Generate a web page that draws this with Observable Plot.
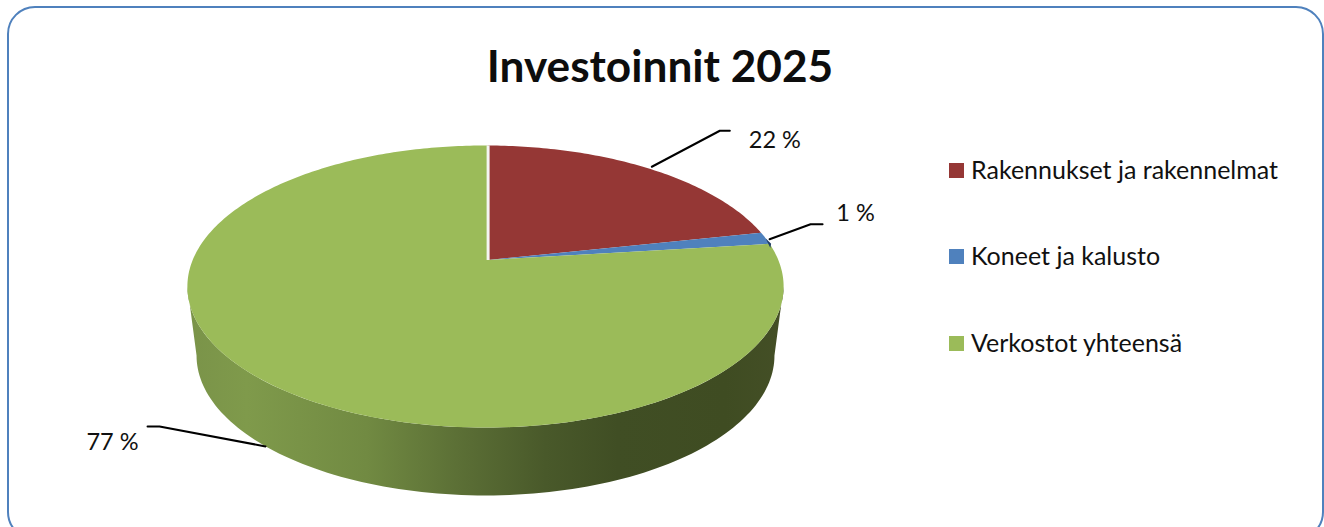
<!DOCTYPE html>
<html lang="fi">
<head>
<meta charset="utf-8">
<title>Investoinnit 2025</title>
<script src="https://cdn.jsdelivr.net/npm/d3@7"></script>
<script src="https://cdn.jsdelivr.net/npm/@observablehq/plot@0.6"></script>
<style>
  html, body { margin: 0; padding: 0; background: #fff; overflow: hidden; width: 1324px; height: 527px; }
  #page { position: relative; width: 1324px; height: 527px; overflow: hidden; font-family: Lato, "Open Sans", sans-serif; color: #111; }
  #border { position: absolute; left: 6.5px; top: 5.5px; width: 1313px; height: 530px; border: 2px solid #4f81bd; border-radius: 28px; box-sizing: content-box; }
  h1 { position: absolute; left: 0; top: 35px; width: 1320px; margin: 0; text-align: center; font-size: 44.2px; line-height: 60px; font-weight: 700; color: #0d0d0d; }
  #legend { position: absolute; left: 949px; top: 0; }
  .item { position: absolute; white-space: nowrap; font-size: 25px; line-height: 30px; height: 30px; display: flex; align-items: center; }
  .item .tx { position: relative; top: -1.5px; }
  .sw { width: 15px; height: 15px; margin-right: 7px; flex: none; }
  #chart { position: absolute; left: 0; top: 0; }
  svg { display: block; }
</style>
</head>
<body>
<div id="page">
  <div id="border"></div>
  <div id="chart"></div>
  <h1 id="title"></h1>
  <div id="legend"></div>
</div>
<script>
// ---- data ----
const chartTitle = "Investoinnit 2025";
const categories = ["Rakennukset ja rakennelmat", "Koneet ja kalusto", "Verkostot yhteensä"];
const shares = [21.6, 1.4, 77];
const colors = ["#953735", "#4f81bd", "#9bbb59"];

// ---- layout of the pseudo-3D pie ----
const W = 1324, H = 527;
const cx = 485, persp = 0.1844, radiusTop = 293, radiusBottom = 284;
const topFace = {a: -88.3, b: 260}, bottomFace = {a: -74.4, b: 329.3};
const labelLayout = [
  {shift: [5.5, -1], elbow: [68, -36], end: [78, -36], text: [123, -26], onBottom: false},
  {shift: [4, 1], elbow: [41, -15], end: [53, -15], text: [86, -26], onBottom: false},
  {shift: [-2, -1], elbow: [-106, -20], end: [-118, -20], text: [-153, -4], onBottom: true}
];

function project(share, face, r) {
  const t = share / 100 * 2 * Math.PI;
  const u = Math.sin(t), v = Math.cos(t), d = 1 + persp * v;
  return {x: cx + r * u / d, y: (face.a * v + face.b) / d};
}
const onTop = s => project(s, topFace, radiusTop);
const onBottom = s => project(s, bottomFace, radiusBottom);
const apex = {x: 487.6, y: topFace.b - 0.5};
const seamTop = {x: apex.x, y: onTop(0).y};

// slices
const cum = d3.cumsum(shares);
const slices = categories.flatMap((name, i) => {
  const from = i ? cum[i - 1] : 0, to = cum[i];
  const n = Math.max(2, Math.ceil((to - from) * 4));
  const rim = d3.range(n + 1).map(k => onTop(from + (to - from) * k / n));
  if (i === 0) rim.unshift(seamTop);
  if (i === categories.length - 1) rim.push(seamTop);
  return [apex, ...rim, apex].map(p => ({...p, name}));
});

// side wall: front part of the rim, top then bottom edge
const startShare = 100 * Math.acos(-persp) / (2 * Math.PI), endShare = 100 - startShare;
const wallSteps = d3.range(121).map(k => startShare + (endShare - startShare) * k / 120);
const wall = [...wallSteps.map(onTop), ...wallSteps.slice().reverse().map(onBottom)];

// dark sliver at the end of the small wedge
const sEnd = cum[1], sMid = cum[0] + shares[1] * 0.5;
const pa = onTop(sMid), pb = onTop(sEnd), pc = onBottom(sEnd);
const sliver = [pa, {x: pb.x + 1.5, y: pb.y}, {x: pb.x + (pc.x - pb.x) * 0.09 + 1.5, y: pb.y + (pc.y - pb.y) * 0.06}];

// leader lines and labels
const mids = shares.map((s, i) => (i ? cum[i - 1] : 0) + s / 2);
const anchors = mids.map((m, i) => {
  const p = (labelLayout[i].onBottom ? onBottom : onTop)(m);
  return {x: p.x + labelLayout[i].shift[0], y: p.y + labelLayout[i].shift[1]};
});
const leaders = anchors.flatMap((p, i) => {
  const l = labelLayout[i];
  return [p, {x: p.x + l.elbow[0], y: p.y + l.elbow[1]}, {x: p.x + l.end[0], y: p.y + l.end[1]}].map(q => ({...q, i}));
});
const labels = anchors.map((p, i) => ({x: p.x + labelLayout[i].text[0], y: p.y + labelLayout[i].text[1], label: `${Math.round(shares[i])} %`}));

// ---- gradient of the side wall ----
const wallGradient = () => {
  const ns = "http://www.w3.org/2000/svg";
  const defs = document.createElementNS(ns, "defs");
  const g = document.createElementNS(ns, "linearGradient");
  g.setAttribute("id", "wallFill");
  g.setAttribute("gradientUnits", "userSpaceOnUse");
  g.setAttribute("x1", 187); g.setAttribute("x2", 784); g.setAttribute("y1", 0); g.setAttribute("y2", 0);
  [[0, "#7a9349"], [0.1, "#7f9a4b"], [0.3, "#718a42"], [0.45, "#5c7036"], [0.6, "#49592a"], [0.72, "#404e24"], [0.9, "#3f4c22"], [1, "#444f26"]]
    .forEach(([o, c]) => {
      const s = document.createElementNS(ns, "stop");
      s.setAttribute("offset", o); s.setAttribute("stop-color", c);
      g.appendChild(s);
    });
  defs.appendChild(g);
  return defs;
};

const chart = Plot.plot({
  width: W, height: H,
  margin: 0,
  style: {background: "transparent", fontFamily: "Lato, 'Open Sans', sans-serif"},
  x: {domain: [0, W], range: [0, W], axis: null},
  y: {domain: [0, H], range: [0, H], axis: null},
  color: {domain: categories, range: colors},
  marks: [
    wallGradient,
    Plot.line(wall, {x: "x", y: "y", fill: "url(#wallFill)", stroke: "none"}),
    Plot.line(slices, {x: "x", y: "y", fill: "name", stroke: "none"}),
    Plot.line(sliver, {x: "x", y: "y", fill: "#1f3d66", stroke: "none"}),
    Plot.line([apex, seamTop], {x: "x", y: "y", stroke: "#f5f5f2", strokeWidth: 3, strokeLinecap: "butt"}),
    Plot.line(leaders, {x: "x", y: "y", z: "i", stroke: "#000", strokeWidth: 2}),
    Plot.text(labels, {x: "x", y: "y", text: "label", fontSize: 23.5, fill: "#111", textAnchor: "middle"})
  ]
});
document.getElementById("chart").appendChild(chart);

document.getElementById("title").textContent = chartTitle;
const legendTops = [155, 241, 328];
const legend = document.getElementById("legend");
categories.forEach((name, i) => {
  const item = document.createElement("div");
  item.className = "item";
  item.style.top = legendTops[i] + "px";
  const sw = document.createElement("span");
  sw.className = "sw";
  sw.style.background = colors[i];
  const tx = document.createElement("span");
  tx.className = "tx";
  tx.textContent = name;
  item.appendChild(sw);
  item.appendChild(tx);
  legend.appendChild(item);
});
</script>
</body>
</html>
